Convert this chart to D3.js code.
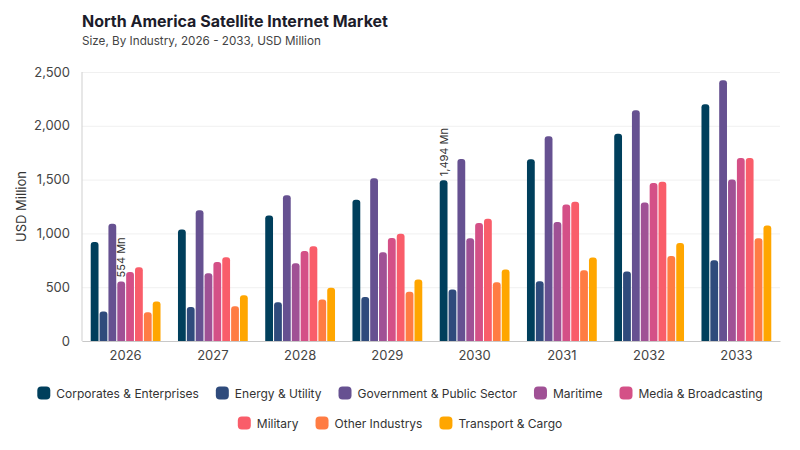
<!DOCTYPE html>
<html>
<head>
<meta charset="utf-8">
<script src="https://cdn.jsdelivr.net/npm/d3@7"></script>
<style>
	body { margin: 0; background: #fff; }
	svg { display: block; font-family: Inter, "Noto Sans", sans-serif; }
</style>
</head>
<body>
<svg id="chart" width="800" height="450"></svg>
<script>
const years = ["2026", "2027", "2028", "2029", "2030", "2031", "2032", "2033"]
const industries = [
	"Corporates & Enterprises", "Energy & Utility", "Government & Public Sector", "Maritime",
	"Media & Broadcasting", "Military", "Other Industrys", "Transport & Cargo",
]
const colours = ["#003f5c", "#2f4b7c", "#665191", "#a05195", "#d45087", "#f95d6a", "#ff7c43", "#ffa600"]

// values per industry, one per year
const corporates = [920, 1037, 1167, 1312, 1494, 1688, 1926, 2201]
const energy = [275, 315, 361, 410, 478, 556, 645, 750]
const government = [1090, 1216, 1355, 1512, 1691, 1904, 2145, 2423]
const maritime = [554, 630, 722, 824, 954, 1105, 1287, 1500]
const media = [642, 734, 836, 957, 1096, 1269, 1469, 1701]
const military = [685, 778, 880, 997, 1136, 1293, 1481, 1701]
const other = [268, 324, 385, 457, 546, 657, 790, 956]
const transport = [367, 426, 494, 571, 664, 775, 910, 1074]
const yTicks = [0, 500, 1000, 1500, 2000, 2500]

// which bars carry a value label: [industry index, year]
const labelled = [[3, "2026"], [0, "2030"]]

const series = [corporates, energy, government, maritime, media, military, other, transport]
const rows = years.map((year, i) => ({
	year,
	values: industries.map((name, k) => ({ name, k, year, value: series[k][i] })),
}))

const svg = d3.select("#chart")
const margin = { top: 72, right: 20, bottom: 109, left: 82 }
const width = 800 - margin.left - margin.right
const height = 450 - margin.top - margin.bottom

// Title block
svg.append("text")
	.attr("x", 82).attr("y", 27)
	.attr("font-size", 16)
	.attr("font-weight", 700)
	.attr("fill", "#1c1c2a")
	.text("North America Satellite Internet Market")
svg.append("text")
	.attr("x", 82).attr("y", 45)
	.attr("font-size", 11.7)
	.attr("fill", "#444")
	.text("Size, By Industry, 2026 - 2033, USD Million")

const g = svg.append("g")
	.attr("transform", `translate(${margin.left},${margin.top})`)

const x0 = d3.scaleBand()
	.domain(years)
	.range([0, width])
	.paddingInner(0.2)
	.paddingOuter(0.1)
const x1 = d3.scaleBand()
	.domain(industries)
	.range([0, x0.bandwidth()])
	.paddingInner(0.12)
const y = d3.scaleLinear()
	.domain([0, 2500])
	.range([height, 0])
const colour = d3.scaleOrdinal()
	.domain(industries)
	.range(colours)

// Grid + y axis
const yAxis = g.append("g")
	.call(d3.axisLeft(y).tickValues(yTicks).tickFormat(d3.format(",")).tickSize(0).tickPadding(12))
yAxis.select(".domain").remove()
yAxis.selectAll("text")
	.attr("font-size", 13)
	.attr("fill", "#444")
	.attr("font-family", "Inter, sans-serif")
yAxis.selectAll(".tick").append("line")
	.attr("x2", width)
	.attr("stroke", "#f0f0f0")

g.append("line")
	.attr("x1", 0).attr("x2", 0)
	.attr("y1", 0).attr("y2", height)
	.attr("stroke", "#cfcfcf")

svg.append("text")
	.attr("transform", `translate(26,${margin.top + height / 2}) rotate(-90)`)
	.attr("text-anchor", "middle")
	.attr("font-size", 13)
	.attr("fill", "#333")
	.text("USD Million")

// Bars with rounded tops
function barPath(d) {
	let bx = x1(d.name)
	let bw = x1.bandwidth()
	let top = y(d.value)
	let r = Math.min(3, bw / 2)
	return `M${bx},${height}V${top + r}Q${bx},${top} ${bx + r},${top}H${bx + bw - r}Q${bx + bw},${top} ${bx + bw},${top + r}V${height}Z`
}

const groups = g.append("g")
	.selectAll("g.year")
	.data(rows)
	.join("g")
	.attr("class", "year")
	.attr("transform", d => `translate(${x0(d.year)},0)`)

groups.selectAll("path")
	.data(d => d.values)
	.join("path")
	.attr("d", barPath)
	.attr("fill", d => colour(d.name))

// Value labels
labelled.forEach(([k, year]) => {
	let i = years.indexOf(year)
	let v = series[k][i]
	let cx = x0(year) + x1(industries[k]) + x1.bandwidth() / 2
	g.append("text")
		.attr("transform", `translate(${cx + 4},${y(v) - 4}) rotate(-90)`)
		.attr("font-size", 11)
		.attr("fill", "#333")
		.text(`${d3.format(",")(v)} Mn`)
})

// X axis
const xAxis = g.append("g")
	.attr("transform", `translate(0,${height})`)
	.call(d3.axisBottom(x0).tickSize(0).tickPadding(10))
xAxis.select(".domain").attr("stroke", "#c8c8c8")
xAxis.selectAll("text")
	.attr("font-size", 13)
	.attr("fill", "#444")
	.attr("font-family", "Inter, sans-serif")

// Legend, two centred rows
const legendRows = [industries.slice(0, 5), industries.slice(5)]
const legendY = [393, 423]
legendRows.forEach((names, r) => {
	let row = svg.append("g")
	let cursor = 0
	names.forEach(name => {
		let item = row.append("g").attr("transform", `translate(${cursor},0)`)
		item.append("rect")
			.attr("x", 0).attr("y", -6.5)
			.attr("width", 13).attr("height", 13)
			.attr("rx", 4)
			.attr("fill", colour(name))
		let label = item.append("text")
			.attr("x", 19).attr("y", 4.5)
			.attr("font-size", 12)
			.attr("fill", "#333")
			.text(name)
		cursor += 19 + label.node().getComputedTextLength() + 17
	})
	let total = cursor - 17
	row.attr("transform", `translate(${(800 - total) / 2},${legendY[r]})`)
})
</script>
</body>
</html>
